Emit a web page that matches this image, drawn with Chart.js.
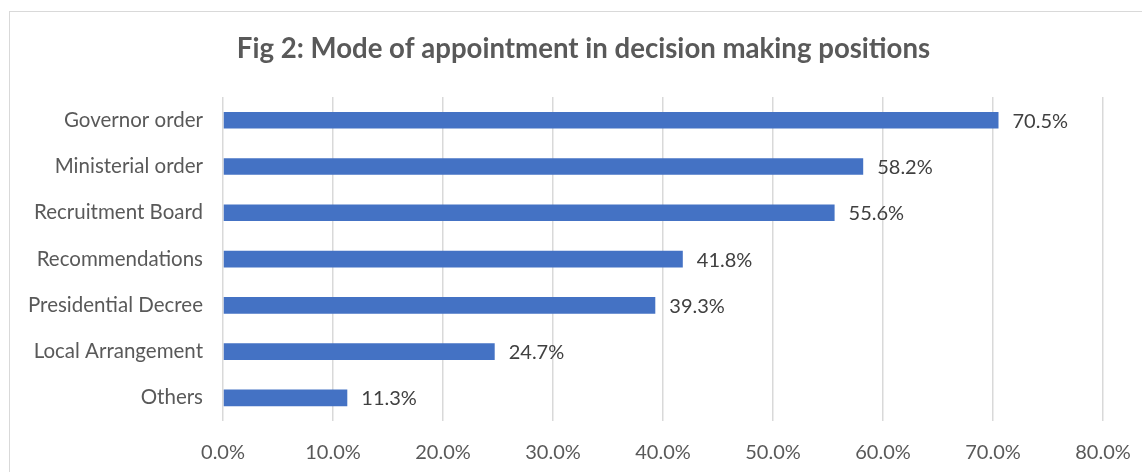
<!DOCTYPE html>
<html><head><meta charset="utf-8">
<script src="https://cdn.jsdelivr.net/npm/chart.js@4/dist/chart.umd.min.js"></script>
<style>
html,body{margin:0;padding:0;background:#fff;overflow:hidden;width:1142px;height:472px;}
#frame{position:absolute;left:9px;top:11px;width:1150px;height:480px;border:1px solid #d9d9d9;box-sizing:border-box;}
#wrap{position:absolute;left:0;top:0;width:1167px;height:472px;}
</style></head>
<body>
<div id="frame"></div>
<div id="wrap"><canvas id="c" width="1167" height="472"></canvas></div>
<script>
const categories = ["Governor order","Ministerial order","Recruitment Board","Recommendations","Presidential Decree","Local Arrangement","Others"];
const values = [0.705,0.582,0.556,0.418,0.393,0.247,0.113];
const tickValues = [0,0.1,0.2,0.3,0.4,0.5,0.6,0.7,0.8];
const titleText = "Fig 2: Mode of appointment in decision making positions";
const FONT = "Lato, sans-serif";

const dataLabels = {
  id:'dataLabels',
  afterDatasetsDraw(chart){
    const ctx = chart.ctx;
    const meta = chart.getDatasetMeta(0);
    ctx.save();
    ctx.font = "20px " + FONT;
    ctx.fillStyle = "#404040";
    ctx.textBaseline = "middle";
    ctx.textAlign = "left";
    meta.data.forEach((bar,i)=>{
      ctx.fillText((values[i]*100).toFixed(1)+"%", bar.x + 14, bar.y + 1);
    });
    ctx.restore();
  }
};

new Chart(document.getElementById('c'),{
  type:'bar',
  data:{labels:categories,datasets:[{data:values,backgroundColor:'#4472C4',borderWidth:0,barPercentage:0.36,categoryPercentage:1}]},
  options:{
    indexAxis:'y',responsive:false,animation:false,
    layout:{padding:{left:0,right:0,top:0,bottom:0}},
    plugins:{
      legend:{display:false},tooltip:{enabled:false},
      title:{display:true,text:titleText,color:'#595959',font:{family:FONT,size:27.6,weight:'bold'},padding:{top:33,bottom:31}}
    },
    scales:{
      x:{min:0,max:0.8,
        afterBuildTicks(s){s.ticks=tickValues.map(v=>({value:v}));},
        ticks:{color:'#595959',font:{family:FONT,size:20},padding:20,callback:v=>(v*100).toFixed(1)+'%'},
        grid:{color:'#d9d9d9',lineWidth:1.5,drawTicks:false},border:{display:false},
        afterFit(s){s.height=51;s.paddingLeft=0;s.paddingRight=64;}
      },
      y:{
        ticks:{color:'#595959',font:{family:FONT,size:20.5},padding:20},
        grid:{display:false,drawTicks:false},border:{display:false},
        afterFit(s){s.width=223;}
      }
    }
  },
  plugins:[dataLabels]
});
</script>
</body></html>
